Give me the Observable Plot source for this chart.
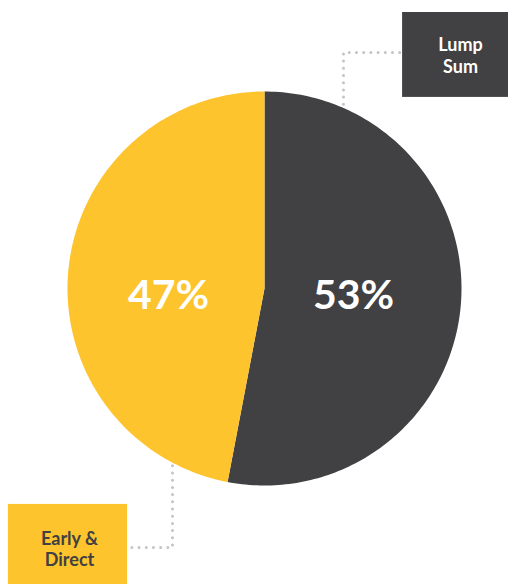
<!DOCTYPE html>
<html>
<head>
<meta charset="utf-8">
<script src="https://cdn.jsdelivr.net/npm/d3@7"></script>
<script src="https://cdn.jsdelivr.net/npm/@observablehq/plot@0.6"></script>
<style>
  html, body { margin: 0; padding: 0; background: #fff; }
  #chart svg { display: block; }
</style>
</head>
<body>
<div id="chart"></div>
<script>
// ---- data ----
const categories = ["Lump Sum", "Early & Direct"];
const shares = [53, 47];
const colors = ["#414042", "#FEC42D"];
const labelText = ["Lump\nSum", "Early &\nDirect"];
const labelInk = ["#ffffff", "#414042"];

// ---- layout (in pie-radius units, centre at 0,0) ----
const pctPos = [[0.452, -0.036], [-0.487, -0.036]];
const boxes = [
  {x1: 0.701, x2: 1.26, y1: 0.970, y2: 1.401, tx: 0.995, ty: 1.185},
  {x1: -1.30, x2: -0.695, y1: -1.52, y2: -1.096, tx: -0.990, ty: -1.320}
];
const leaders = [
  [[0.401, 0.935], [0.401, 1.198], [0.701, 1.198]],
  [[-0.467, -0.90], [-0.467, -1.315], [-0.695, -1.315]]
];

// ---- slices from d3.pie ----
const pie = d3.pie().sort(null).value(d => d)(shares);
const slicePts = [];
pie.forEach((a, i) => {
  const n = 180;
  slicePts.push({cat: categories[i], x: 0, y: 0});
  for (let k = 0; k <= n; k++) {
    const t = a.startAngle + (a.endAngle - a.startAngle) * k / n;
    slicePts.push({cat: categories[i], x: Math.sin(t), y: Math.cos(t)});
  }
  slicePts.push({cat: categories[i], x: 0, y: 0});
});

const pctData = shares.map((s, i) => ({cat: categories[i], label: s + "%", x: pctPos[i][0], y: pctPos[i][1]}));
const boxData = boxes.map((b, i) => ({...b, cat: categories[i], text: labelText[i], ink: labelInk[i]}));
const leaderPts = leaders.flatMap((L, i) => L.map(p => ({cat: categories[i], x: p[0], y: p[1]})));

const chart = Plot.plot({
  width: 508,
  height: 584,
  marginLeft: 67,
  marginRight: 47,
  marginTop: 91,
  marginBottom: 99,
  x: {domain: [-1, 1], axis: null},
  y: {domain: [-1, 1], axis: null},
  color: {domain: categories, range: colors},
  style: {fontFamily: "Lato, 'Open Sans', sans-serif", background: "#fff", overflow: "visible"},
  marks: [
    Plot.line(leaderPts, {x: "x", y: "y", z: "cat", stroke: "#c4c4c4", strokeWidth: 3,
      strokeDasharray: "0,7.2", strokeLinecap: "round"}),
    Plot.line(slicePts, {x: "x", y: "y", z: "cat", fill: "cat", stroke: "none", curve: "linear"}),
    Plot.rect(boxData, {x1: "x1", x2: "x2", y1: "y1", y2: "y2", fill: "cat"}),
    Plot.text(boxData, {x: "tx", y: "ty", text: "text", fill: d => d.ink, fontSize: 18,
      fontWeight: 700, lineHeight: 1.2, textAnchor: "middle"}),
    Plot.text(pctData, {x: "x", y: "y", text: "label", fill: "#fff", fontSize: 41, fontWeight: 700})
  ]
});
document.getElementById("chart").appendChild(chart);
</script>
</body>
</html>
